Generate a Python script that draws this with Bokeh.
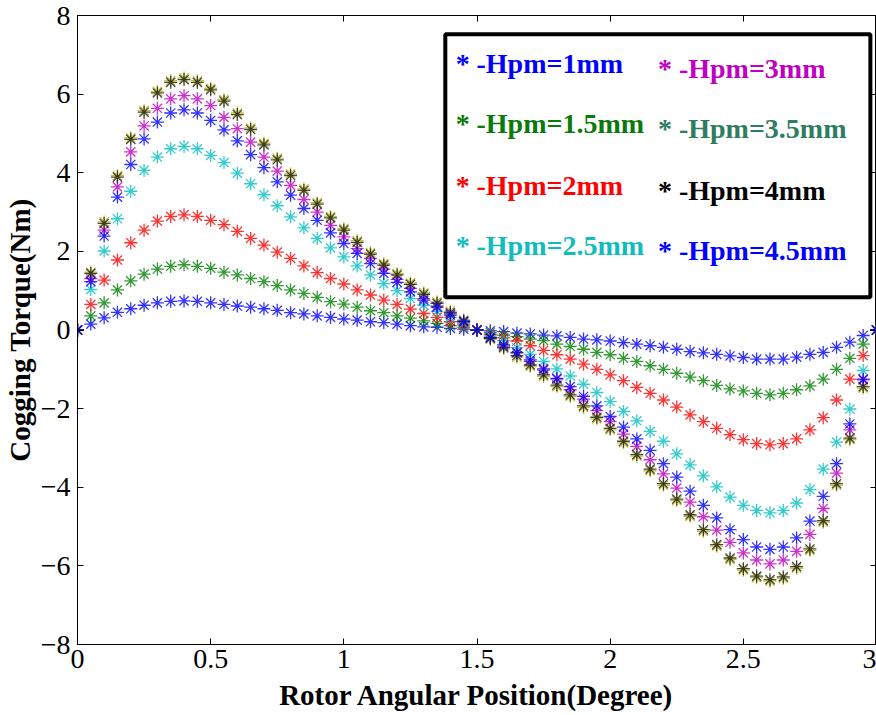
from bokeh.plotting import figure
from bokeh.models import Range1d, LinearAxis, FixedTicker, BoxAnnotation, Label, CustomJSTickFormatter
from bokeh.embed import file_html
from bokeh.resources import INLINE

# ---------------- data ----------------
x_deg = [round(i * 0.05, 2) for i in range(61)]

hpm_1 = [0, 0.15, 0.31, 0.45, 0.54, 0.63, 0.69, 0.73, 0.74, 0.73, 0.69, 0.65, 0.61, 0.58, 0.54, 0.50,
         0.44, 0.41, 0.36, 0.32, 0.28, 0.25, 0.21, 0.19, 0.15, 0.11, 0.08, 0.07, 0.04, 0.02, 0.0,
         -0.02, -0.04, -0.08, -0.10, -0.13, -0.15, -0.19, -0.23, -0.25, -0.28, -0.32, -0.36, -0.40, -0.44, -0.49,
         -0.55, -0.58, -0.62, -0.66, -0.70, -0.74, -0.74, -0.74, -0.69, -0.62, -0.57, -0.44, -0.31, -0.14, 0]
hpm_15 = [0, 0.36, 0.69, 1.02, 1.25, 1.42, 1.55, 1.62, 1.66, 1.62, 1.57, 1.47, 1.40, 1.31, 1.23, 1.13,
          1.02, 0.93, 0.83, 0.72, 0.66, 0.58, 0.49, 0.44, 0.36, 0.30, 0.23, 0.17, 0.11, 0.07, 0.0,
          -0.07, -0.13, -0.17, -0.23, -0.27, -0.36, -0.42, -0.49, -0.57, -0.63, -0.72, -0.80, -0.91, -1.00, -1.10,
          -1.20, -1.29, -1.41, -1.50, -1.55, -1.61, -1.65, -1.61, -1.52, -1.42, -1.25, -1.00, -0.72, -0.36, 0]
hpm_2 = [0, 0.65, 1.27, 1.78, 2.22, 2.54, 2.77, 2.89, 2.93, 2.89, 2.79, 2.68, 2.51, 2.33, 2.16, 1.98,
         1.82, 1.63, 1.46, 1.31, 1.17, 1.02, 0.89, 0.76, 0.65, 0.53, 0.42, 0.32, 0.21, 0.13, 0.0,
         -0.12, -0.20, -0.28, -0.40, -0.52, -0.63, -0.74, -0.87, -1.00, -1.14, -1.29, -1.46, -1.61, -1.78, -1.96,
         -2.16, -2.33, -2.50, -2.66, -2.79, -2.89, -2.92, -2.89, -2.77, -2.54, -2.23, -1.78, -1.25, -0.65, 0]
hpm_25 = [0, 1.03, 2.01, 2.83, 3.53, 4.06, 4.40, 4.61, 4.67, 4.61, 4.44, 4.26, 3.99, 3.72, 3.44, 3.16,
          2.88, 2.60, 2.33, 2.09, 1.86, 1.63, 1.40, 1.18, 1.00, 0.80, 0.63, 0.47, 0.32, 0.17, 0.0,
          -0.15, -0.27, -0.45, -0.62, -0.80, -0.99, -1.17, -1.38, -1.59, -1.82, -2.07, -2.31, -2.58, -2.83, -3.15,
          -3.43, -3.71, -3.99, -4.25, -4.46, -4.59, -4.65, -4.59, -4.40, -4.06, -3.54, -2.85, -2.01, -1.03, 0]
hpm_3 = [0, 1.31, 2.54, 3.64, 4.53, 5.19, 5.64, 5.88, 5.96, 5.88, 5.71, 5.41, 5.12, 4.78, 4.40, 4.04,
         3.68, 3.32, 3.00, 2.66, 2.37, 2.07, 1.82, 1.55, 1.29, 1.06, 0.80, 0.61, 0.41, 0.21, 0.0,
         -0.20, -0.41, -0.59, -0.80, -1.02, -1.25, -1.52, -1.76, -2.05, -2.33, -2.65, -2.96, -3.30, -3.66, -4.02,
         -4.38, -4.75, -5.09, -5.40, -5.67, -5.85, -5.95, -5.85, -5.63, -5.20, -4.54, -3.64, -2.54, -1.27, 0]
hpm_35 = [0, 1.47, 2.75, 3.93, 4.89, 5.58, 6.07, 6.34, 6.41, 6.34, 6.15, 5.86, 5.52, 5.14, 4.75, 4.37,
          3.97, 3.59, 3.24, 2.89, 2.58, 2.27, 1.97, 1.69, 1.44, 1.20, 0.95, 0.72, 0.48, 0.26, 0.0,
          -0.24, -0.47, -0.69, -0.93, -1.18, -1.44, -1.69, -1.97, -2.26, -2.54, -2.87, -3.21, -3.58, -3.95, -4.34,
          -4.74, -5.12, -5.50, -5.84, -6.11, -6.30, -6.39, -6.32, -6.06, -5.61, -4.89, -3.95, -2.79, -1.48, 0]
hpm_4 = [0, 1.44, 2.71, 3.89, 4.85, 5.54, 6.03, 6.30, 6.37, 6.30, 6.11, 5.82, 5.48, 5.10, 4.71, 4.33,
         3.93, 3.55, 3.20, 2.85, 2.54, 2.23, 1.93, 1.65, 1.40, 1.16, 0.91, 0.68, 0.44, 0.23, 0.0,
         -0.21, -0.44, -0.65, -0.89, -1.14, -1.40, -1.65, -1.93, -2.22, -2.50, -2.83, -3.17, -3.54, -3.91, -4.30,
         -4.70, -5.08, -5.46, -5.80, -6.07, -6.26, -6.35, -6.28, -6.02, -5.57, -4.85, -3.91, -2.75, -1.44, 0]
hpm_45 = [0, 1.23, 2.39, 3.38, 4.21, 4.86, 5.29, 5.52, 5.60, 5.52, 5.33, 5.09, 4.81, 4.46, 4.13, 3.77,
          3.43, 3.09, 2.79, 2.47, 2.20, 1.95, 1.69, 1.44, 1.21, 0.97, 0.76, 0.58, 0.38, 0.21, 0.0,
          -0.19, -0.38, -0.57, -0.76, -0.99, -1.23, -1.44, -1.69, -1.93, -2.20, -2.47, -2.77, -3.06, -3.40, -3.74,
          -4.10, -4.46, -4.78, -5.08, -5.33, -5.52, -5.58, -5.52, -5.29, -4.86, -4.23, -3.40, -2.39, -1.25, 0]

series_names = ["-Hpm=1mm", "-Hpm=1.5mm", "-Hpm=2mm", "-Hpm=2.5mm",
                "-Hpm=3mm", "-Hpm=3.5mm", "-Hpm=4mm", "-Hpm=4.5mm"]
series_values = [hpm_1, hpm_15, hpm_2, hpm_25, hpm_3, hpm_35, hpm_4, hpm_45]
marker_colors = ["#0000ff", "#008000", "#ff0000", "#00bfbf", "#bf00bf", "#b4b400", "#1a1a1a", "#0000ff"]
legend_colors = ["#0000ff", "#0a7a0a", "#ff0000", "#10bcbc", "#c000c0", "#2e7d5e", "#000000", "#0000ff"]

x_ticks = [0, 0.5, 1, 1.5, 2, 2.5, 3]
y_ticks = [-8, -6, -4, -2, 0, 2, 4, 6, 8]

SERIF = "Liberation Serif"

# ---------------- figure ----------------
p = figure(width=876, height=715, output_backend="svg", toolbar_location=None,
           x_range=Range1d(0, 3), y_range=Range1d(-8, 8),
           min_border_left=76, min_border_right=0, min_border_top=15, min_border_bottom=71)
p.background_fill_color = "white"
p.border_fill_color = "white"
p.outline_line_color = "black"
p.outline_line_width = 1
p.xgrid.visible = False
p.ygrid.visible = False

for vals, col in zip(series_values, marker_colors):
    p.scatter(x_deg, vals, marker="asterisk", size=13, line_color=col, line_width=1.3, line_alpha=0.8)

def style_axis(ax, ticks, show_labels):
    ax.ticker = FixedTicker(ticks=ticks)
    ax.major_tick_in = 6
    ax.major_tick_out = 0
    ax.minor_tick_in = 0
    ax.minor_tick_out = 0
    ax.minor_tick_line_color = None
    ax.axis_line_color = "black"
    ax.major_tick_line_color = "black"
    ax.major_label_text_font = SERIF
    ax.major_label_text_font_size = "28px"
    ax.major_label_text_color = "black"
    if not show_labels:
        ax.formatter = CustomJSTickFormatter(code="return ''")
        ax.major_label_standoff = -12
        ax.major_label_text_font_size = "0px"

style_axis(p.xaxis[0], x_ticks, True)
style_axis(p.yaxis[0], y_ticks, True)
p.xaxis[0].major_label_standoff = 5
p.yaxis[0].major_label_standoff = 7
p.xaxis[0].axis_label = "Rotor Angular Position(Degree)"
p.yaxis[0].axis_label = "Cogging Torque(Nm)"
for ax in (p.xaxis[0], p.yaxis[0]):
    ax.axis_label_text_font = SERIF
    ax.axis_label_text_font_style = "bold"
    ax.axis_label_text_font_size = "29px"
    ax.axis_label_text_color = "black"
p.xaxis[0].axis_label_standoff = 8
p.yaxis[0].axis_label_standoff = 2

top_ax = LinearAxis()
style_axis(top_ax, x_ticks, False)
p.add_layout(top_ax, "above")
right_ax = LinearAxis()
style_axis(right_ax, y_ticks, False)
p.add_layout(right_ax, "right")

# ---------------- legend box ----------------
p.add_layout(BoxAnnotation(left=1.381, right=2.977, bottom=0.83, top=7.52,
                           fill_color="white", fill_alpha=1.0,
                           line_color="black", line_alpha=1.0, line_width=4))

legend_pos = [(1.42, 1.498, 6.77), (1.42, 1.498, 5.25), (1.42, 1.498, 3.68), (1.42, 1.498, 2.15),
              (2.18, 2.258, 6.65), (2.18, 2.258, 5.12), (2.18, 2.258, 3.55), (2.18, 2.258, 2.02)]
for (sx, tx, ty), name, col in zip(legend_pos, series_names, legend_colors):
    p.add_layout(Label(x=sx, y=ty, text="*", text_color=col, text_font=SERIF,
                       text_font_style="bold", text_font_size="28px", text_baseline="middle"))
    p.add_layout(Label(x=tx, y=ty, text=name, text_color=col, text_font=SERIF,
                       text_font_style="bold", text_font_size="28px", text_baseline="middle"))

open("out.html", "w").write(file_html(p, INLINE))
